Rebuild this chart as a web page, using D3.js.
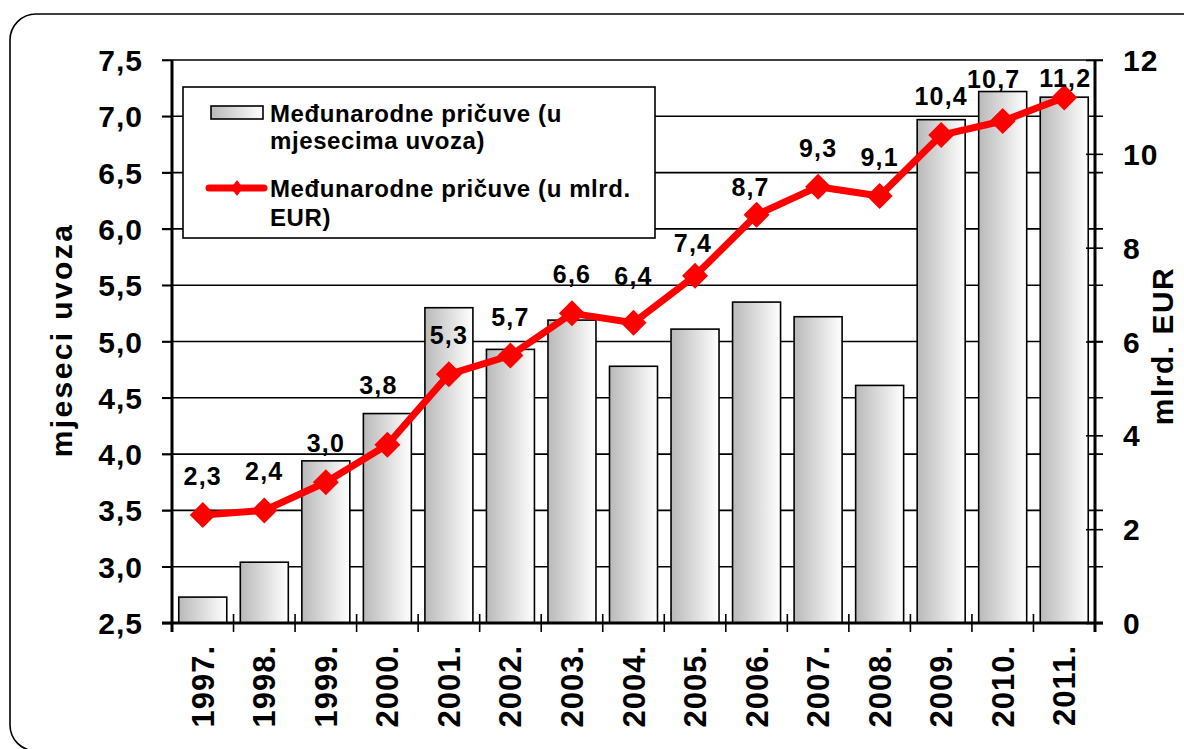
<!DOCTYPE html>
<html>
<head>
<meta charset="utf-8">
<script src="https://cdn.jsdelivr.net/npm/d3@7"></script>
<style>
  html, body { margin: 0; padding: 0; background: #fff; }
  svg { display: block; }
  text { font-family: Arial, "Liberation Sans", sans-serif; font-weight: bold; fill: #000; }
</style>
</head>
<body>
<svg id="chart" width="1184" height="749"></svg>
<script>
// ---- data ----
const years = ["1997.", "1998.", "1999.", "2000.", "2001.", "2002.", "2003.", "2004.", "2005.", "2006.", "2007.", "2008.", "2009.", "2010.", "2011."];
const reservesMonths = [2.73, 3.04, 3.94, 4.36, 5.30, 4.93, 5.19, 4.78, 5.11, 5.35, 5.22, 4.61, 6.97, 7.22, 7.17];
const reservesEUR = [2.3, 2.4, 3.0, 3.8, 5.3, 5.7, 6.6, 6.4, 7.4, 8.7, 9.3, 9.1, 10.4, 10.7, 11.2];
const leftTicks = [2.5, 3.0, 3.5, 4.0, 4.5, 5.0, 5.5, 6.0, 6.5, 7.0, 7.5];
const rightTicks = [0, 2, 4, 6, 8, 10, 12];
const seriesNames = ["Međunarodne pričuve (u", "mjesecima uvoza)", "Međunarodne pričuve (u mlrd.", "EUR)"];
const leftTitle = "mjeseci uvoza";
const rightTitle = "mlrd. EUR";

// ---- layout ----
const svg = d3.select("#chart");
const L = 172, R = 1095, T = 60, B = 623;
const fmt = d => d3.format(".1f")(d).replace(".", ",");

const x = d3.scaleBand().domain(years).range([L, R]).paddingInner(0.22).paddingOuter(0.11);
const yL = d3.scaleLinear().domain([2.5, 7.5]).range([B, T]);
const yR = d3.scaleLinear().domain([0, 12]).range([B, T]);

// outer rounded frame
svg.append("rect").attr("x", 10).attr("y", 14).attr("width", 1200).attr("height", 737)
  .attr("rx", 26).attr("ry", 26).attr("fill", "none").attr("stroke", "#000").attr("stroke-width", 1.6);

// gradient for bars
const defs = svg.append("defs");
const grad = defs.append("linearGradient").attr("id", "barGrad").attr("x1", "0%").attr("x2", "100%").attr("y1", "0%").attr("y2", "0%");
grad.append("stop").attr("offset", "0%").attr("stop-color", "#b9b9b9");
grad.append("stop").attr("offset", "100%").attr("stop-color", "#ffffff");

// gridlines (from left axis ticks)
svg.append("g").selectAll("line").data(leftTicks.slice(1)).join("line")
  .attr("x1", L - 10).attr("x2", R + 8)
  .attr("y1", d => yL(d)).attr("y2", d => yL(d))
  .attr("stroke", "#000").attr("stroke-width", 1.6);

// bars
svg.append("g").selectAll("rect").data(years).join("rect")
  .attr("x", d => x(d)).attr("width", x.bandwidth())
  .attr("y", (d, i) => yL(reservesMonths[i]))
  .attr("height", (d, i) => B - yL(reservesMonths[i]))
  .attr("fill", "url(#barGrad)").attr("stroke", "#000").attr("stroke-width", 1.6);

// left axis
const axL = svg.append("g").attr("transform", `translate(${L},0)`)
  .call(d3.axisLeft(yL).tickValues(leftTicks).tickFormat(fmt).tickSize(10).tickPadding(19));
axL.select(".domain").attr("stroke", "#000").attr("stroke-width", 3).attr("d", `M0,${T}V${B + 9}`);
axL.selectAll(".tick line").attr("stroke", "#000").attr("stroke-width", 1.6);
axL.selectAll(".tick text").attr("font-size", 30).attr("letter-spacing", 1).attr("dy", "0.35em")
  .style("font-family", "Arial, 'Liberation Sans', sans-serif").style("font-weight", "bold").attr("fill", "#000");

// right axis
const axR = svg.append("g").attr("transform", `translate(${R},0)`)
  .call(d3.axisRight(yR).tickValues(rightTicks).tickFormat(d => d).tickSize(8).tickPadding(20));
axR.select(".domain").attr("stroke", "#000").attr("stroke-width", 3).attr("d", `M0,${T}V${B + 9}`);
axR.selectAll(".tick line").attr("stroke", "#000").attr("stroke-width", 1.6).attr("x1", -9);
axR.selectAll(".tick text").attr("font-size", 30).attr("letter-spacing", 1).attr("dy", "0.35em")
  .style("font-family", "Arial, 'Liberation Sans', sans-serif").style("font-weight", "bold").attr("fill", "#000");

// bottom axis
const step = x.step();
const boundaries = d3.range(years.length + 1).map(i => L + i * step);
svg.append("g").selectAll("line").data(boundaries).join("line")
  .attr("x1", d => d).attr("x2", d => d).attr("y1", B - 9).attr("y2", B + 9)
  .attr("stroke", "#000").attr("stroke-width", 1.6);
svg.append("line").attr("x1", L - 10).attr("x2", R + 8).attr("y1", B).attr("y2", B)
  .attr("stroke", "#000").attr("stroke-width", 3.2);

// x labels
svg.append("g").selectAll("text").data(years).join("text")
  .attr("transform", d => `translate(${x(d) + x.bandwidth() / 2 + 11},${645}) rotate(-90)`)
  .attr("text-anchor", "end").attr("font-size", 31).attr("letter-spacing", 1)
  .text(d => d);

// axis titles
svg.append("text").attr("transform", "translate(72,340) rotate(-90)")
  .attr("text-anchor", "middle").attr("font-size", 30).attr("letter-spacing", 2.4).text(leftTitle);
svg.append("text").attr("transform", "translate(1173,346) rotate(-90)")
  .attr("text-anchor", "middle").attr("font-size", 30).attr("letter-spacing", 1.5).text(rightTitle);

// line series
const px = (d, i) => x(years[i]) + x.bandwidth() / 2;
const line = d3.line().x((d, i) => px(d, i)).y(d => yR(d));
svg.append("path").datum(reservesEUR).attr("d", line)
  .attr("fill", "none").attr("stroke", "#ff0000").attr("stroke-width", 7).attr("stroke-linejoin", "round");
const dia = 13;
svg.append("g").selectAll("path").data(reservesEUR).join("path")
  .attr("d", (d, i) => {
    const cx = px(d, i), cy = yR(d);
    return `M${cx},${cy - dia}L${cx + dia},${cy}L${cx},${cy + dia}L${cx - dia},${cy}Z`;
  })
  .attr("fill", "#ff0000");

// data labels (default: above the point; a few nudged like in the original)
const nudge = { 3: [-9, -21], 7: [0, -8], 8: [-2, 6], 9: [-6, 11], 13: [-9, -3], 14: [1, 19] };
svg.append("g").selectAll("text").data(reservesEUR).join("text")
  .attr("x", (d, i) => px(d, i) + (nudge[i] ? nudge[i][0] : 0))
  .attr("y", (d, i) => yR(d) - 39 + 9 + (nudge[i] ? nudge[i][1] : 0))
  .attr("text-anchor", "middle").attr("font-size", 25).attr("letter-spacing", 1.2)
  .text(d => fmt(d));

// legend
const lg = svg.append("g");
lg.append("rect").attr("x", 183).attr("y", 87).attr("width", 472).attr("height", 151)
  .attr("fill", "#fff").attr("stroke", "#000").attr("stroke-width", 1.6);
lg.append("rect").attr("x", 211).attr("y", 106).attr("width", 52).attr("height", 13)
  .attr("fill", "url(#barGrad)").attr("stroke", "#000").attr("stroke-width", 1.6);
lg.append("line").attr("x1", 209).attr("x2", 264).attr("y1", 188).attr("y2", 188)
  .attr("stroke", "#ff0000").attr("stroke-width", 7).attr("stroke-linecap", "round");
lg.append("path").attr("d", "M237,180L243,188L237,196L231,188Z").attr("fill", "#ff0000");
const legY = [122, 149, 197, 226];
lg.selectAll("text.leg").data(seriesNames).join("text").attr("class", "leg")
  .attr("x", 270).attr("y", (d, i) => legY[i])
  .attr("font-size", 24).attr("letter-spacing", 0.6).text(d => d);
</script>
</body>
</html>
